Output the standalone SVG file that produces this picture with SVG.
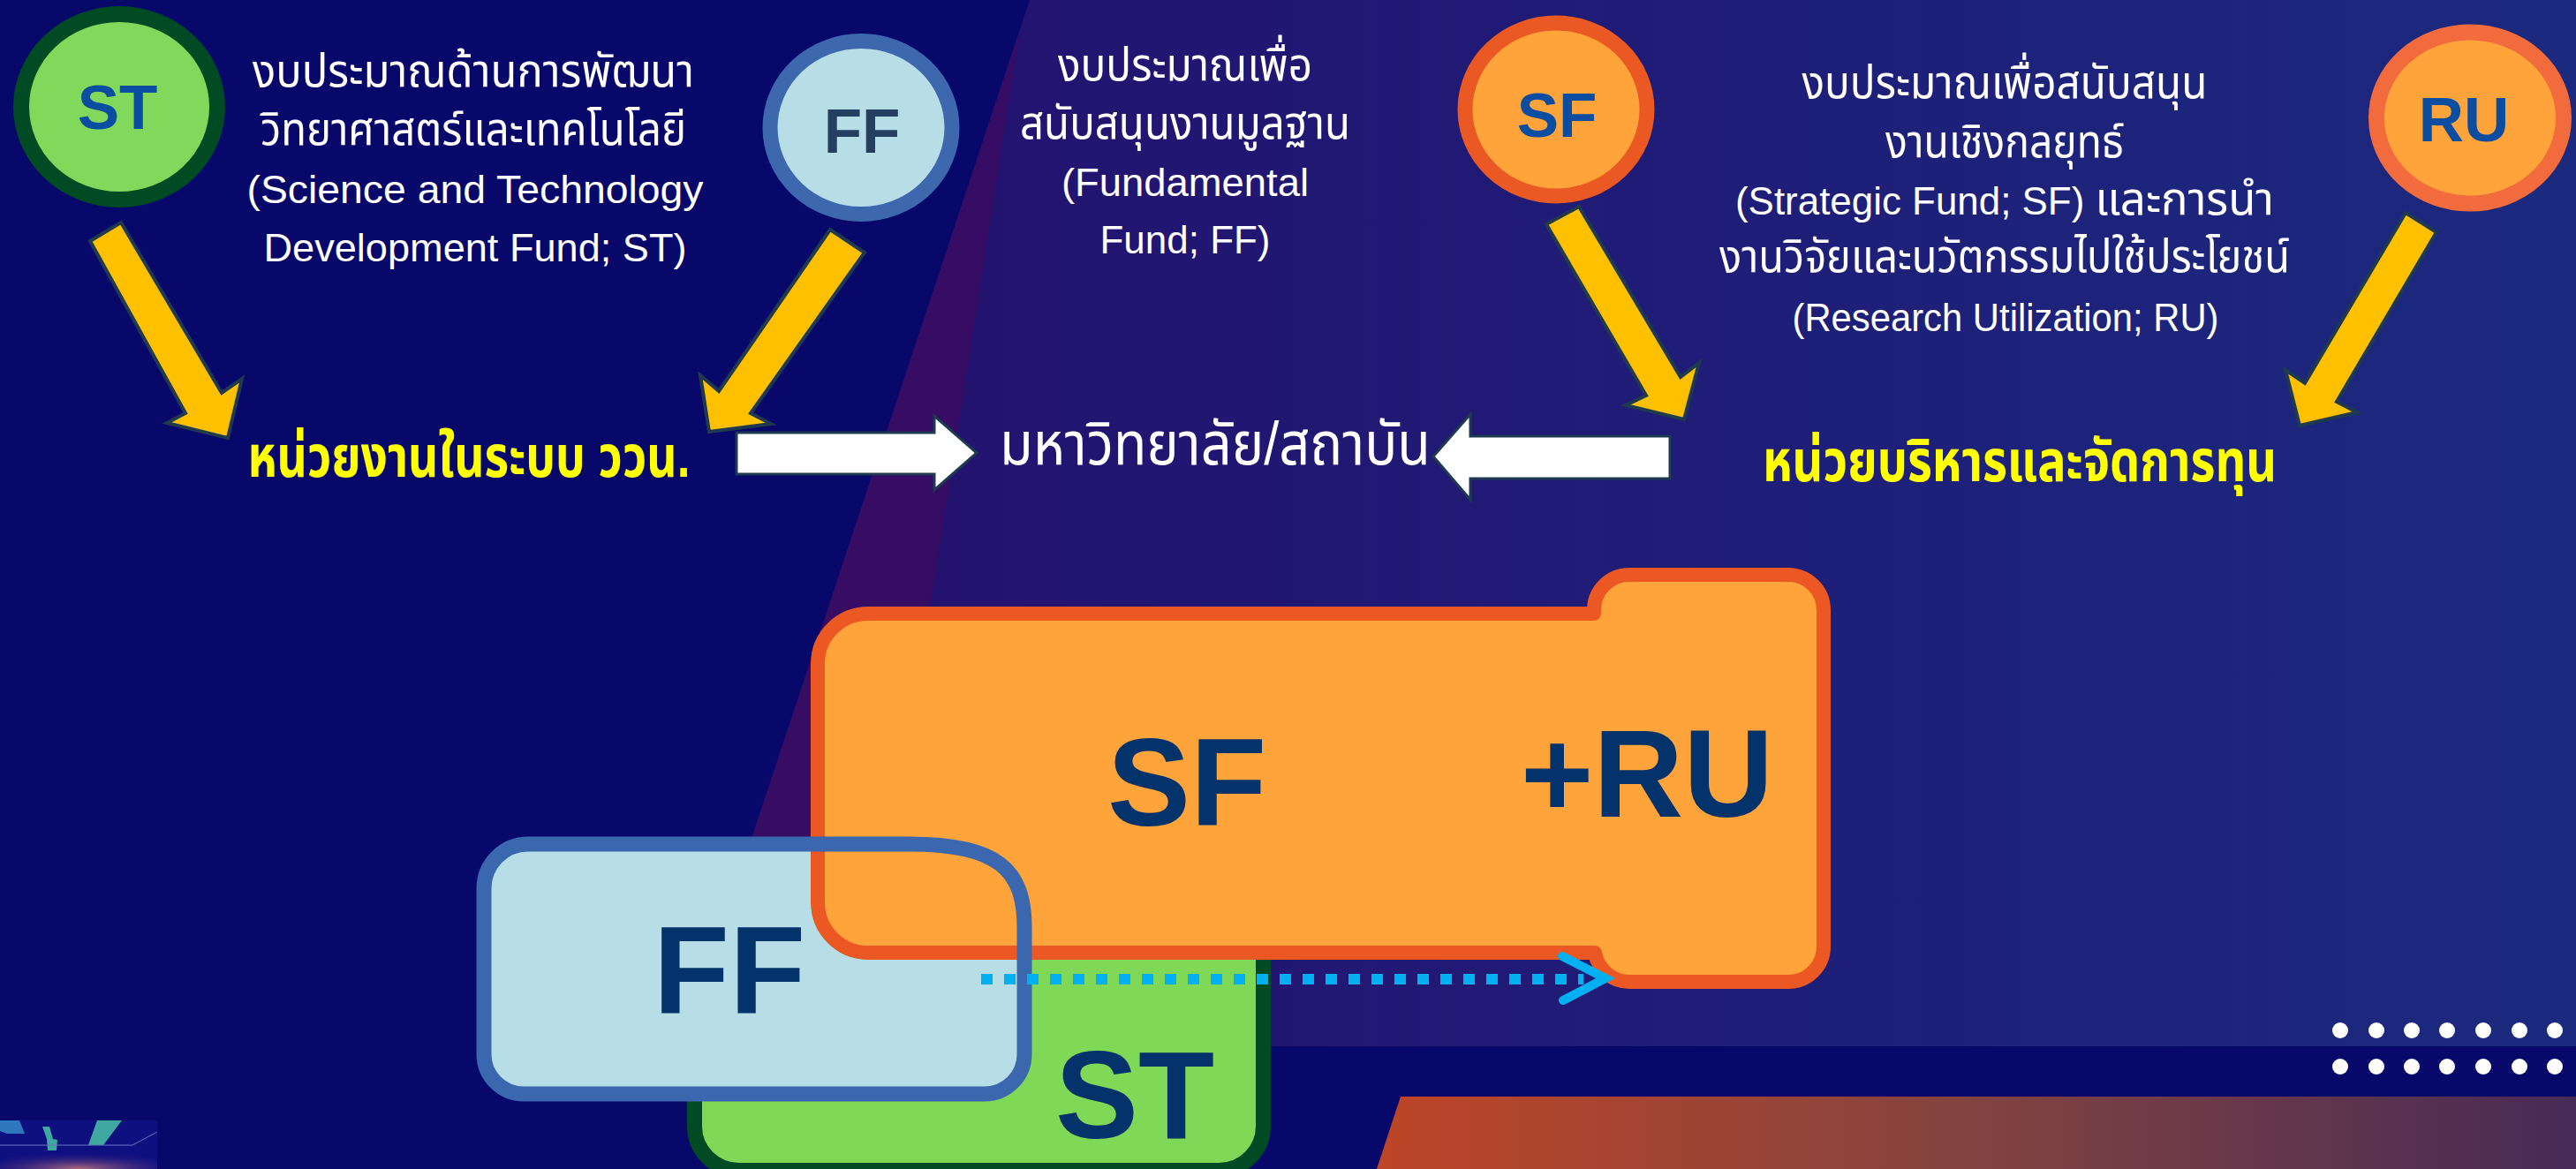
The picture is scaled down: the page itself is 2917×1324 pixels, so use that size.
<svg xmlns="http://www.w3.org/2000/svg" width="2917" height="1324" viewBox="0 0 2917 1324">
<defs>
<style>
.desc{font-family:'Liberation Sans','Noto Sans Thai','Noto Sans',sans-serif;font-size:44px;fill:#ffffff;text-anchor:middle}
.th{font-size:51px}
.ylab{font-family:'Liberation Sans','Noto Sans Thai','Noto Sans',sans-serif;font-size:66px;font-weight:bold;fill:#ffff00;text-anchor:middle}
.wlab{font-family:'Liberation Sans','Noto Sans Thai','Noto Sans',sans-serif;font-size:68px;fill:#ffffff;text-anchor:middle}
.ctext{font-family:'Liberation Sans',Arial,sans-serif;font-size:71px;font-weight:bold;fill:#0b4da0;text-anchor:middle}
.btext{font-family:'Liberation Sans',Arial,sans-serif;font-size:141px;font-weight:bold;fill:#04336b;text-anchor:middle}
.yarrow{fill:#ffc000;stroke:#1f3a4f;stroke-width:4;stroke-linejoin:miter}
.warrow{fill:#ffffff;stroke:#1d3a50;stroke-width:3}
</style>
<linearGradient id="gReg" gradientUnits="userSpaceOnUse" x1="800" y1="0" x2="2917" y2="0">
<stop offset="0" stop-color="#24106c"/>
<stop offset="0.5" stop-color="#1f1c77"/>
<stop offset="1" stop-color="#1b2a7e"/>
</linearGradient>
<linearGradient id="gOr" gradientUnits="userSpaceOnUse" x1="1560" y1="0" x2="2917" y2="0">
<stop offset="0" stop-color="#be4527"/>
<stop offset="0.5" stop-color="#824340"/>
<stop offset="1" stop-color="#472a57"/>
</linearGradient>
<radialGradient id="gThumb" cx="0.5" cy="1" r="0.7">
<stop offset="0" stop-color="#b06a7a"/>
<stop offset="1" stop-color="#2a1a80" stop-opacity="0"/>
</radialGradient>
<path id="sfShape" d="M983,695 L1805,695 L1805,691 A40,40 0 0 1 1845,651 L2025,651 A40,40 0 0 1 2065,691 L2065,1072 A40,40 0 0 1 2025,1112 L1845,1112 A40,40 0 0 1 1806,1079 L983,1079 A57,57 0 0 1 926,1022 L926,752 A57,57 0 0 1 983,695 Z"/>
<path id="ffShape" d="M598,956 L1030,956 C1130,956 1160,985 1160,1050 L1160,1194 A45,45 0 0 1 1115,1239 L593,1239 A45,45 0 0 1 548,1194 L548,1006 A50,50 0 0 1 598,956 Z"/>
<mask id="ffMask" maskUnits="userSpaceOnUse" x="0" y="0" width="2917" height="1324">
<rect x="0" y="0" width="2917" height="1324" fill="#ffffff"/>
<use href="#sfShape" fill="#000000" stroke="#000000" stroke-width="16"/>
</mask>
</defs>

<g id="background">
<rect x="0" y="0" width="2917" height="1324" fill="#08086b"/>
<polygon points="1166,0 2917,0 2917,1185 773,1185" fill="url(#gReg)"/>
<polygon points="1155,34 976,1185 773,1185" fill="#370c64"/>
<polygon points="1586,1242 2917,1242 2917,1324 1559,1324" fill="url(#gOr)"/>
<g fill="#ffffff">
<circle cx="2650" cy="1167" r="9"/><circle cx="2691" cy="1167" r="9"/><circle cx="2731" cy="1167" r="9"/><circle cx="2771" cy="1167" r="9"/><circle cx="2812" cy="1167" r="9"/><circle cx="2853" cy="1167" r="9"/><circle cx="2893" cy="1167" r="9"/>
<circle cx="2650" cy="1208" r="9"/><circle cx="2691" cy="1208" r="9"/><circle cx="2731" cy="1208" r="9"/><circle cx="2771" cy="1208" r="9"/><circle cx="2812" cy="1208" r="9"/><circle cx="2853" cy="1208" r="9"/><circle cx="2893" cy="1208" r="9"/>
</g>
<g id="thumbnail">
<rect x="0" y="1269" width="178" height="55" fill="#0e1080"/>
<rect x="0" y="1297" width="178" height="27" fill="url(#gThumb)"/>
<polygon points="0,1269 22,1269 28,1284 8,1284 0,1281" fill="#2f78c0"/>
<polygon points="48,1276 56,1276 60,1290 65,1291 64,1303 54,1303 53,1290" fill="#3fa8a0"/>
<polygon points="110,1269 138,1269 117,1297 100,1297" fill="#3fa8a0"/>
<line x1="0" y1="1297" x2="150" y2="1297" stroke="#6a70c0" stroke-width="1"/>
<line x1="150" y1="1297" x2="178" y2="1282" stroke="#6a70c0" stroke-width="1"/>
</g>
</g>

<g id="text-st">
<text class="desc th" x="536" y="98" textLength="500" lengthAdjust="spacingAndGlyphs">งบประมาณด้านการพัฒนา</text>
<text class="desc th" x="536" y="164" textLength="482" lengthAdjust="spacingAndGlyphs">วิทยาศาสตร์และเทคโนโลยี</text>
<text class="desc" x="538" y="230" textLength="517" lengthAdjust="spacingAndGlyphs">(Science and Technology</text>
<text class="desc" x="538" y="296" textLength="479" lengthAdjust="spacingAndGlyphs">Development Fund; ST)</text>
</g>
<g id="text-ff">
<text class="desc th" x="1342" y="91" textLength="288" lengthAdjust="spacingAndGlyphs">งบประมาณเพื่อ</text>
<text class="desc th" x="1342" y="157" textLength="374" lengthAdjust="spacingAndGlyphs">สนับสนุนงานมูลฐาน</text>
<text class="desc" x="1342" y="222" textLength="280" lengthAdjust="spacingAndGlyphs">(Fundamental</text>
<text class="desc" x="1342" y="287" textLength="193" lengthAdjust="spacingAndGlyphs">Fund; FF)</text>
</g>
<g id="text-sfru">
<text class="desc th" x="2270" y="111" textLength="459" lengthAdjust="spacingAndGlyphs">งบประมาณเพื่อสนับสนุน</text>
<text class="desc th" x="2270" y="178" textLength="270" lengthAdjust="spacingAndGlyphs">งานเชิงกลยุทธ์</text>
<text class="desc" x="2270" y="243" textLength="610" lengthAdjust="spacingAndGlyphs">(Strategic Fund; SF) <tspan style="font-size:51px">และการนำ</tspan></text>
<text class="desc th" x="2270" y="308" textLength="646" lengthAdjust="spacingAndGlyphs">งานวิจัยและนวัตกรรมไปใช้ประโยชน์</text>
<text class="desc" x="2271" y="375" textLength="483" lengthAdjust="spacingAndGlyphs">(Research Utilization; RU)</text>
</g>

<g id="circle-st">
<ellipse cx="135" cy="121" rx="111" ry="105" fill="#80d95a" stroke="#004a24" stroke-width="18"/>
<text class="ctext" x="133" y="146">ST</text>
</g>
<g id="circle-ff">
<ellipse cx="975" cy="144.5" rx="103" ry="98" fill="#b7dde7" stroke="#3d68ae" stroke-width="17"/>
<text class="ctext" x="976" y="173" style="fill:#243f60">FF</text>
</g>
<g id="circle-sf">
<ellipse cx="1762" cy="124" rx="103" ry="98" fill="#ffa33b" stroke="#ea5823" stroke-width="17"/>
<text class="ctext" x="1763" y="155">SF</text>
</g>
<g id="circle-ru">
<ellipse cx="2797" cy="133.5" rx="106" ry="97" fill="#ffa33b" stroke="#f26b3d" stroke-width="18"/>
<text class="ctext" x="2790" y="160">RU</text>
</g>

<g id="label-vvn">
<text class="ylab" x="531" y="540" textLength="501" lengthAdjust="spacingAndGlyphs">หน่วยงานในระบบ ววน.</text>
</g>
<g id="label-univ">
<text class="wlab" x="1376" y="526" textLength="488" lengthAdjust="spacingAndGlyphs">มหาวิทยาลัย/สถาบัน</text>
</g>
<g id="label-pmu">
<text class="ylab" x="2287" y="545" textLength="582" lengthAdjust="spacingAndGlyphs">หน่วยบริหารและจัดการทุน</text>
</g>

<g id="box-st">
<rect x="786.5" y="1000" width="644" height="325.5" rx="50" ry="50" fill="#7fd957" stroke="#004a24" stroke-width="17"/>
<text class="btext" x="1285" y="1289">ST</text>
</g>
<g id="box-sfru">
<use href="#sfShape" fill="#ffa33b" stroke="#ec5823" stroke-width="16" stroke-linejoin="round"/>
<text class="btext" x="1344" y="935">SF</text>
<text class="btext" x="1865" y="925">+RU</text>
</g>
<g id="box-ff">
<use href="#ffShape" fill="#b7dde7" mask="url(#ffMask)"/>
<use href="#ffShape" fill="none" stroke="#3b67ae" stroke-width="17"/>
<text class="btext" x="826" y="1148">FF</text>
</g>

<g id="connectors">
<polygon class="yarrow" points="102,273 137,252 251,445 274,429 258,496 189,479 210,468"/>
<polygon class="yarrow" points="940,260 979,286 850,468 873,480 803,489 793,425 814,443"/>
<polygon class="yarrow" points="1751,254 1788,234 1903,427 1924,411 1907,475 1841,459 1864,448"/>
<polygon class="yarrow" points="2724,241 2759,263 2646,455 2669,467 2604,482 2588,419 2610,434"/>
<polygon class="warrow" points="834,490 1058,490 1058,471 1106,513 1058,555 1058,537 834,537"/>
<polygon class="warrow" points="1891,494 1665,494 1665,469 1623,517 1665,566 1665,542 1891,542"/>
<line x1="1111" y1="1109" x2="1793" y2="1109" stroke="#00b0f0" stroke-width="12" stroke-dasharray="13 13"/>
<polyline points="1769,1083 1818,1108 1770,1133" fill="none" stroke="#00b0f0" stroke-width="10" stroke-linecap="round" stroke-linejoin="miter"/>
</g>
</svg>
